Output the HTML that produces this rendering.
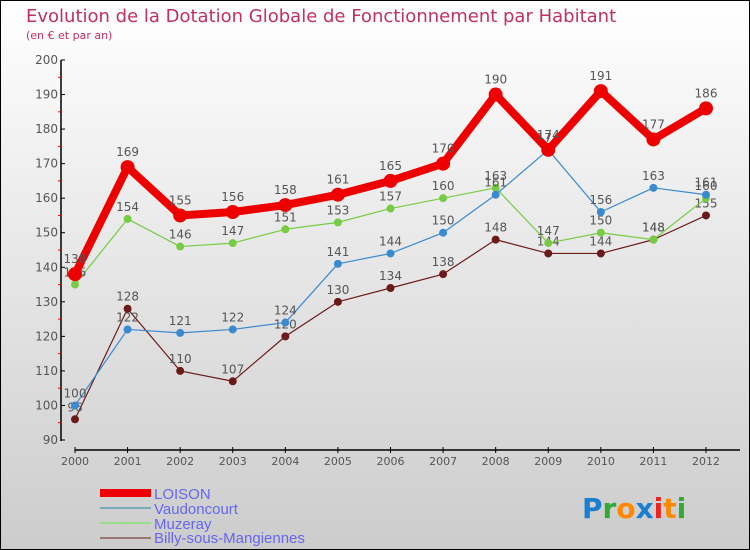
<!DOCTYPE html>
<html><head><meta charset="utf-8"><style>
body{margin:0}
#c{width:750px;height:550px;position:relative;box-sizing:border-box;border:1px solid #000;background:linear-gradient(#fff,#ccc);font-family:"DejaVu Sans","Liberation Sans",sans-serif;overflow:hidden}
</style></head><body>
<div id="c">
<svg id="s" width="750" height="550" style="position:absolute;left:-1px;top:-1px">
<text x="26" y="22" font-size="18" fill="#c03060" font-family="DejaVu Sans, sans-serif">Evolution de la Dotation Globale de Fonctionnement par Habitant</text>
<text x="26" y="39" font-size="11" fill="#c03060">(en € et par an)</text>
<g id="g"></g>
<g font-size="15" fill="#6666ee" font-family="Liberation Sans, sans-serif">
<rect x="100" y="489" width="51" height="8" fill="#e00"/>
<text x="154" y="499">LOISON</text>
<rect x="100" y="507" width="51" height="2" fill="#7ab"/>
<text x="154" y="514">Vaudoncourt</text>
<rect x="100" y="522" width="51" height="2" fill="#9d8"/>
<text x="154" y="529">Muzeray</text>
<rect x="100" y="537" width="51" height="2" fill="#977"/>
<text x="154" y="543">Billy-sous-Mangiennes</text>
</g>
<text x="582" y="518" font-size="28" font-weight="bold"><tspan fill="#1a7fd0">P</tspan><tspan fill="#3a3">r</tspan><tspan fill="#f80">o</tspan><tspan fill="#1a7fd0">x</tspan><tspan fill="#e22">i</tspan><tspan fill="#f80">t</tspan><tspan fill="#3a3">i</tspan></text>
</svg></div>
<script>
const years=["2000","2001","2002","2003","2004","2005","2006","2007","2008","2009","2010","2011","2012"];
const yTicks=[90,100,110,120,130,140,150,160,170,180,190,200];
const loison=[138,169,155,156,158,161,165,170,190,174,191,177,186];
const vaudoncourt=[100,122,121,122,124,141,144,150,161,174,156,163,161];
const muzeray=[135,154,146,147,151,153,157,160,163,147,150,148,160];
const billy=[96,128,110,107,120,130,134,138,148,144,144,148,155];
const NS="http://www.w3.org/2000/svg";
const g=document.getElementById('g');
function X(i){return 75+i*(706-75)/(years.length-1);}
function Y(v){return 440-(v-90)*380/110;}
function mk(t,a,p){const e=document.createElementNS(NS,t);for(const k in a)e.setAttribute(k,a[k]);(p||g).appendChild(e);return e;}
let e=mk('line',{x1:61,y1:60,x2:61,y2:441,stroke:'#000','stroke-width':1.5});


e=mk('line',{x1:75,y1:450,x2:740,y2:450,stroke:'#000','stroke-width':1.5});


yTicks.forEach((v,i)=>{
 mk('line',{x1:61,y1:Y(v),x2:65,y2:Y(v),stroke:'#000'});
 if(i<yTicks.length-1)mk('line',{x1:58,y1:Y(v+5),x2:61,y2:Y(v+5),stroke:'#e00'});
 const t=mk('text',{x:58,y:Y(v)+4,'font-size':12,fill:'#555','text-anchor':'end'});t.textContent=v;
 
 
});
years.forEach((y,i)=>{
 mk('line',{x1:X(i),y1:447,x2:X(i),y2:453,stroke:'#000'});
 const t=mk('text',{x:X(i),y:465,'font-size':11,fill:'#555','text-anchor':'middle'});t.textContent=y;
 
 
});
function series(d,col,w,r,name){
 const p=mk('polyline',{points:d.map((v,i)=>X(i)+','+Y(v)).join(' '),fill:'none',stroke:col,'stroke-width':w,'stroke-linejoin':'round'});
 
 
 d.forEach((v,i)=>{
  const c=mk('circle',{cx:X(i),cy:Y(v),r:r,fill:col});
  
  
  const t=mk('text',{x:X(i),y:Y(v)-8-(r>4?3:0),'font-size':12,fill:'#555','text-anchor':'middle'});t.textContent=v;
  
  
 });
}
series(billy,'#6b1a1a',1.2,4,'billy');
series(muzeray,'#7c4',1.2,4,'muzeray');
series(vaudoncourt,'#3a8ad0',1.2,4,'vaudoncourt');
series(loison,'#e00',8,7,'loison');
</script>
</body></html>
